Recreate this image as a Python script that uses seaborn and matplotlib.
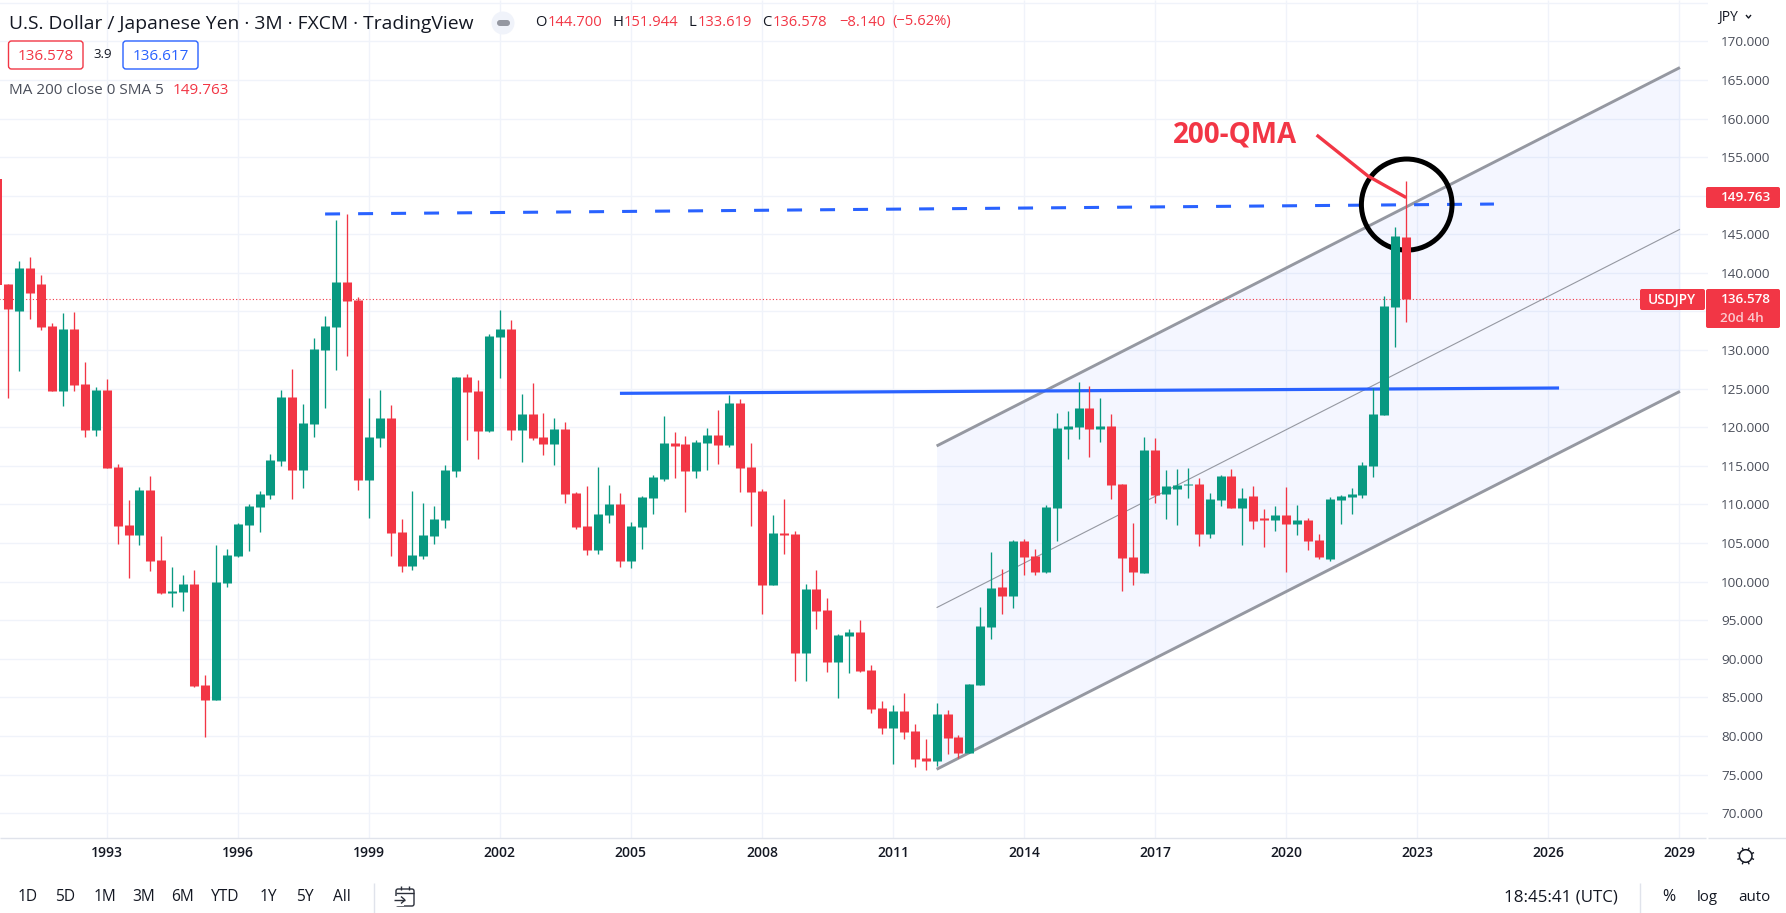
import numpy as np
import pandas as pd
import matplotlib
matplotlib.use("Agg")
import matplotlib.pyplot as plt
from matplotlib.patches import Ellipse, FancyBboxPatch, Circle, Rectangle
from matplotlib.lines import Line2D
import seaborn as sns

# quarterly USD/JPY candles, first one is 1990 Q3
opens = [152.16,138.56,135.11,140.63,138.56,133.12,124.75,132.73,125.60,119.65,
         124.83,114.86,107.35,106.05,111.88,102.81,98.54,98.67,99.71,86.62,
         84.68,99.84,103.33,107.35,109.68,111.23,115.64,123.93,114.47,120.43,
         130.01,133.00,138.82,136.49,113.18,118.62,121.21,106.44,102.04,103.33,
         105.92,107.99,114.34,126.52,124.70,119.52,131.70,132.73,119.65,121.72,
         118.75,117.84,119.78,111.49,107.22,104.11,108.64,110.06,102.68,107.08,
         110.84,113.30,117.96,117.83,114.34,117.96,119.00,117.70,123.14,114.85,
         111.75,99.57,106.31,106.18,90.76,99.05,96.33,89.60,92.96,93.48,
         88.56,83.64,81.05,83.25,80.66,77.16,76.77,82.86,79.88,77.81,
         86.62,94.13,99.31,98.14,105.27,103.33,101.25,109.54,119.78,120.04,
         122.50,119.78,120.17,112.65,103.20,101.12,117.06,111.36,112.00,112.52,
         112.65,106.18,110.58,113.69,109.54,111.10,108.25,107.99,108.64,107.47,
         107.99,105.40,102.94,110.58,110.97,111.23,114.98,121.59,135.59,144.70]
highs = [152.16,138.56,141.54,142.06,139.73,133.51,134.80,134.93,128.46,125.22,
         126.26,115.25,110.59,112.27,113.70,105.92,101.91,100.87,101.52,87.92,
         104.76,104.24,107.61,110.07,111.75,116.55,124.83,127.55,123.02,131.57,
         134.42,146.85,147.63,136.88,123.80,124.83,122.89,108.13,111.75,110.20,
         109.81,115.12,126.52,126.90,126.13,132.09,135.19,133.90,124.31,125.74,
         121.85,121.20,120.69,111.62,112.40,114.86,112.52,111.49,107.73,111.10,
         113.82,121.46,119.39,118.87,118.35,119.91,122.24,124.18,123.66,117.96,
         112.00,108.64,110.71,106.56,99.70,101.51,97.89,93.22,93.87,95.04,
         89.21,84.54,84.03,85.58,81.57,79.62,84.28,83.38,80.14,86.75,
         96.72,103.84,101.64,105.40,105.53,104.23,109.93,121.85,122.11,125.86,
         125.35,123.79,121.72,112.65,107.60,118.74,118.61,114.47,114.59,114.72,
         113.43,111.49,113.82,114.59,112.13,112.39,109.41,109.80,112.26,109.93,
         108.25,106.18,110.97,111.23,112.13,115.50,125.09,137.01,145.95,151.944]
lows = [138.43,123.84,127.33,134.03,132.60,124.75,122.80,124.75,118.79,118.92,
        114.77,104.89,100.48,104.76,101.39,98.41,96.73,96.21,86.36,79.89,
        84.68,99.32,103.20,103.98,106.44,110.72,114.99,110.72,112.14,118.75,
        122.50,127.42,129.24,111.88,108.26,117.45,103.33,101.26,101.52,102.94,
        104.89,106.96,113.57,118.35,115.90,119.39,126.39,118.35,115.51,118.35,
        116.41,115.12,110.20,106.83,103.46,103.59,107.60,101.90,101.77,104.23,
        108.77,113.04,113.43,109.03,113.43,114.47,115.24,117.45,111.62,107.21,
        95.81,99.57,103.58,87.13,87.13,93.87,88.30,84.93,88.17,88.30,
        82.99,80.27,76.38,79.62,75.99,75.60,76.12,77.68,77.16,77.81,
        86.62,92.57,95.81,96.59,100.86,100.86,101.12,105.27,115.89,118.48,
        116.15,118.09,110.71,98.79,99.57,101.12,110.19,108.12,107.34,110.84,
        104.62,105.66,109.80,109.54,104.75,106.82,104.49,106.56,101.25,106.05,
        104.10,102.94,102.68,107.47,108.77,110.84,113.56,121.59,130.40,133.619]
closes = [138.43,135.32,140.63,137.40,133.00,124.75,132.73,125.52,119.65,124.83,
          114.77,107.22,106.05,111.88,102.69,98.54,98.80,99.71,86.49,84.68,
          99.96,103.46,107.48,109.81,111.36,115.77,123.93,114.47,120.56,130.14,
          133.12,138.82,136.36,113.17,118.75,121.21,106.31,102.04,103.46,106.05,
          108.13,114.47,126.52,124.57,119.52,131.83,132.73,119.65,121.72,118.62,
          117.84,119.78,111.36,107.09,104.11,108.77,110.06,102.68,107.21,110.97,
          113.56,117.96,117.57,114.34,118.09,119.00,117.70,123.14,114.72,111.62,
          99.57,106.31,106.05,90.76,99.05,96.20,89.60,93.09,93.48,88.43,
          83.51,81.05,83.25,80.53,77.03,76.77,82.86,79.75,77.81,86.75,
          94.26,99.18,98.14,105.27,103.20,101.25,109.67,119.91,120.17,122.50,
          119.78,120.17,112.52,103.07,101.25,117.06,111.23,112.39,112.52,112.65,
          106.18,110.71,113.69,109.54,110.84,107.86,107.99,108.64,107.47,107.99,
          105.27,103.20,110.71,111.10,111.36,115.11,121.72,135.72,144.78,136.578]

tick_years = list(range(1993, 2030, 3))
price_ticks = list(range(70, 176, 5))
hidden_price_labels = [135, 150, 175]  # sit under the price tags in the reference
last_price = 136.578
ma_price = 149.763

channel_x = [86.0, 154.07]
channel_upper = [117.58, 166.60]
channel_mid = [96.64, 145.65]
channel_lower = [75.70, 124.65]
solid_x = [57.0, 143.0]
solid_y = [124.40, 125.09]
dashed_x = [30.0, 137.04]
dashed_y = [147.63, 148.92]
price_line_x = [-1.6, 150.4]
arrow_x = [120.8, 125.5, 129.0]
arrow_y = [157.86, 152.55, 149.76]
ring_center = [129.05, 148.85]
ring_size = [8.3, 11.8]

GREEN, RED, BLUE, GREY = "#089981", "#F23645", "#2962FF", "#9598A1"
W, H = 1786, 913
FONT = "Open Sans"

sns.set_theme(style="white", rc={"font.family": FONT, "lines.solid_capstyle": "butt"})
fig = plt.figure(figsize=(W / 100, H / 100), dpi=100, facecolor="white")
# axes start a little off-canvas so that the clipped first candle is still drawn
ax = fig.add_axes([-20 / W, 1 - 838 / H, 1728 / W, 838 / H])
ax.set_xlim(0.229 - 20 / 10.92, 156.64)
ax.set_ylim(66.8, 175.35)

idx = np.arange(len(opens))
df = pd.DataFrame({"i": idx, "o": opens, "h": highs, "l": lows, "c": closes})
df["dir"] = np.where(df.c >= df.o, "up", "down")
df["top"] = df[["o", "c"]].max(axis=1)
df["bot"] = df[["o", "c"]].min(axis=1)
palette = {"up": GREEN, "down": RED}

wicks = df.melt(id_vars=["i", "dir"], value_vars=["l", "h"], value_name="price")
bodies = df.melt(id_vars=["i", "dir"], value_vars=["bot", "top"], value_name="price")
for frame, lw in ((wicks, 0.95), (bodies, 6.5)):
    sns.lineplot(data=frame, x="i", y="price", hue="dir", units="i", estimator=None,
                 palette=palette, linewidth=lw, legend=False, ax=ax, zorder=6,
                 solid_capstyle="butt")
# the first candle's centre lies off the canvas, where a stroked line is dropped: fill it
first = df.iloc[0]
ax.bar(first.i, first.top - first.bot, bottom=first.bot, width=0.85, color=RED, linewidth=0, zorder=6)

# channel
ax.fill_between(channel_x, channel_lower, channel_upper, color="#2962FF", alpha=0.05,
                linewidth=0, zorder=1)
for yy, lw in ((channel_upper, 2.1), (channel_lower, 2.1), (channel_mid, 0.8)):
    sns.lineplot(x=channel_x, y=yy, color=GREY, linewidth=lw, ax=ax, zorder=3)

# horizontal levels
sns.lineplot(x=solid_x, y=solid_y, color=BLUE, linewidth=2.3, ax=ax, zorder=4)
ax.plot(dashed_x, dashed_y, color=BLUE, linewidth=2.2, dashes=(4.9, 5.9), zorder=4,
        dash_capstyle="butt")
ax.plot(price_line_x, [last_price, last_price], color=RED, linewidth=0.8,
        linestyle=(0, (1, 2)), zorder=5)

# annotations
ax.add_patch(Ellipse(ring_center, ring_size[0], ring_size[1], fill=False, edgecolor="black",
                     linewidth=3.6, zorder=5))
sns.lineplot(x=arrow_x, y=arrow_y, color=RED, linewidth=2.4, ax=ax, zorder=5, sort=False)

# axes furniture
ax.set_xlim(0.229 - 20 / 10.92, 156.64)
ax.set_ylim(66.8, 175.35)
ax.set_xticks([(y - 1993) * 4 + 10 for y in tick_years])
ax.set_xticklabels([str(y) for y in tick_years], fontsize=10, color="#131722", fontweight=600)
ax.set_yticks(price_ticks)
ax.set_yticklabels(["" if p in hidden_price_labels else f"{p:.3f}" for p in price_ticks],
                   fontsize=9.7, color="#4A4E5A")
ax.yaxis.tick_right()
ax.tick_params(axis="x", length=0, pad=6)
ax.tick_params(axis="y", length=0, pad=9.6)
ax.set_xlabel("")
ax.set_ylabel("")
ax.grid(True, color="#F0F3FA", linewidth=1)
ax.set_axisbelow(True)
for s in ax.spines.values():
    s.set_visible(False)


def fx(x):
    return x / W


def fy(y):
    return 1 - y / H


def label(x, y, s, color="#131722", size=10, ha="left", weight="normal", **kw):
    fig.text(fx(x), fy(y), s, color=color, fontsize=size, ha=ha, va="center", fontweight=weight, **kw)


def box(x0, y0, x1, y1, fc="none", ec="none", lw=1, round_px=2):
    fig.add_artist(FancyBboxPatch((x0, H - y1), x1 - x0, y1 - y0,
                                  boxstyle=f"round,pad=0,rounding_size={round_px}",
                                  transform=matplotlib.transforms.IdentityTransform(),
                                  fc=fc, ec=ec, lw=lw))


def seg(x0, y0, x1, y1, color="#E0E3EB", lw=1.0):
    fig.add_artist(Line2D([fx(x0), fx(x1)], [fy(y0), fy(y1)], color=color, linewidth=lw,
                          transform=fig.transFigure))


seg(0, 838, 1706, 838)
seg(1708, 838, W, 838)

# header
label(9, 24, "U.S. Dollar / Japanese Yen · 3M · FXCM · TradingView", size=13.9)
fig.add_artist(Circle((503, H - 23), 11.5, transform=matplotlib.transforms.IdentityTransform(),
                      fc="#F0F3FA", ec="none"))
box(497, 20, 510, 26, fc="#9598A1", round_px=3)
for x, s, c in ((535, "O", "#131722"), (548, "144.700", RED), (612, "H", "#131722"), (624, "151.944", RED),
                (688, "L", "#131722"), (698, "133.619", RED), (762, "C", "#131722"), (773, "136.578", RED),
                (839, "−8.140", RED), (892, "(−5.62%)", RED)):
    label(x, 22, s, color=c, size=10.6)
box(8.5, 41, 83, 69, ec=RED, lw=1, fc="white", round_px=3)
label(46, 56, "136.578", color=RED, size=11, ha="center")
label(103, 55, "3.9", color="#131722", size=9.5, ha="center")
box(123, 41, 198, 69, ec=BLUE, lw=1, fc="white", round_px=3)
label(161, 56, "136.617", color=BLUE, size=11, ha="center")
label(9, 91, "MA 200 close 0 SMA 5", color="#4A4E5A", size=11)
label(173, 91, "149.763", color=RED, size=11)

# big annotation text
label(1173, 135, "200-QMA", color=RED, size=20, weight="bold")

# price axis
label(1718, 17, "JPY", size=10, color="#131722")
fig.add_artist(Line2D([fx(1746), fx(1748.5), fx(1751)], [fy(15), fy(18), fy(15)], color="#131722",
                      linewidth=1, transform=fig.transFigure))
box(1706, 187, 1780, 208, fc=RED, round_px=2)
label(1721, 197.5, "149.763", color="white", size=9.7, weight=600)
box(1640, 289, 1705, 310, fc=RED, round_px=2)
label(1672, 299.5, "USDJPY", color="white", size=9.8, ha="center", weight=600)
box(1706, 289, 1780, 328, fc=RED, round_px=2)
label(1721, 299.5, "136.578", color="white", size=9.7, weight=600)
label(1720, 318, "20d 4h", color="#FBC9CE", size=9.7, weight=600)

# gear / sun icon
fig.add_artist(Circle((1745.7, H - 856), 6.3, transform=matplotlib.transforms.IdentityTransform(),
                      fc="none", ec="#131722", lw=1.1))
for a in np.deg2rad(np.arange(0, 360, 45) + 22.5):
    seg(1745.7 + 6.6 * np.cos(a), 856 + 6.6 * np.sin(a), 1745.7 + 9 * np.cos(a), 856 + 9 * np.sin(a),
        color="#131722", lw=1.0)

# range selector
for x, s in ((28, "1D"), (65.5, "5D"), (104.5, "1M"), (143.5, "3M"), (182, "6M"), (225.6, "YTD"),
             (268, "1Y"), (305, "5Y"), (341.6, "All")):
    label(x, 897, s, size=11.2, ha="center", color="#131722")
seg(374, 883, 374, 913)
# calendar icon
box(396, 889, 414, 906, ec="#2A2E39", lw=1.0, round_px=2)
seg(396, 893, 414, 893, color="#2A2E39", lw=1.0)
seg(401, 886, 401, 890, color="#2A2E39", lw=1.0)
seg(409, 886, 409, 890, color="#2A2E39", lw=1.0)
fig.add_artist(Rectangle((394, H - 906), 10, 10, transform=matplotlib.transforms.IdentityTransform(),
                         fc="white", ec="none"))
seg(394, 900, 405, 900, color="#2A2E39", lw=1.0)
seg(401, 896.5, 405, 900, color="#2A2E39", lw=1.0)
seg(401, 903.5, 405, 900, color="#2A2E39", lw=1.0)

label(1561, 897, "18:45:41 (UTC)", size=12.2, ha="center", color="#131722")
seg(1640, 883, 1640, 913)
label(1669, 897, "%", size=11.5, ha="center")
label(1707, 897, "log", size=10.8, ha="center")
label(1754, 897, "auto", size=10.8, ha="center")

fig.savefig("out.png", dpi=100, facecolor="white")
